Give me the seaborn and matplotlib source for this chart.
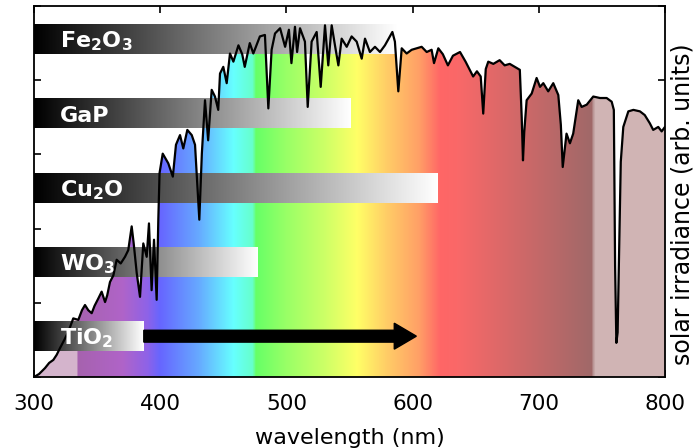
import numpy as np
import pandas as pd
import matplotlib
matplotlib.use("Agg")
import matplotlib.pyplot as plt
import seaborn as sns
from matplotlib.colors import to_rgb

# ---------------- data ----------------
wavelength = [300, 304, 308.7, 312, 315.3, 318, 320.6, 324, 327.2, 331.1, 335.1, 338, 340.4, 343,
              345.7, 348, 351, 353.6, 356.3, 358, 360.2, 362.9, 365.5, 368.7, 372.1, 374.7, 377.4,
              379, 381.4, 384, 386.6, 389.3, 391.1, 393.2, 395.1, 397.2, 398.5, 399.5, 402, 406.4,
              410, 412.5, 415.7, 418.3, 421.5, 425, 427.6, 431, 433, 435.5, 438, 440.8, 443.4, 446,
              447.4, 450, 452.7, 455.3, 458, 462, 465, 467, 471, 473.8, 479, 483, 485.7, 488.3, 491,
              495, 499, 502, 504, 506.8, 508.5, 510.8, 514.7, 516.9, 520, 524, 527.2, 530.6, 533.2,
              535.9, 538.5, 541.2, 543.8, 547.8, 551.7, 555.7, 559.7, 562.3, 566.2, 570.2, 574.2,
              578.1, 582.1, 584, 586, 588.7, 591.4, 595.3, 599.3, 603.2, 607.2, 611.2, 615.1, 617,
              620.4, 624, 628, 632, 637.6, 642, 645, 648, 651, 654, 656, 658, 660, 664, 669, 673,
              677, 681, 685, 686.5, 687.5, 688.5, 690.4, 694.4, 698.3, 701, 703.6, 707.5, 711.5,
              715.5, 717.5, 719, 722, 724.7, 727.3, 731.3, 734, 738, 743.2, 748.5, 753.8, 757.8,
              759.5, 760.5, 761.5, 762.5, 763.5, 765, 767, 771, 775, 780.2, 784, 788, 790.7, 794.7,
              797.4, 800]
irradiance = [0.0, 0.04, 0.12, 0.19, 0.23, 0.30, 0.39, 0.50, 0.61, 0.79, 0.77, 0.90, 0.97, 0.90,
              0.86, 0.96, 1.06, 1.15, 1.01, 1.10, 1.28, 1.37, 1.58, 1.53, 1.62, 1.71, 2.03,
              1.80, 1.40, 1.08, 1.80, 1.62, 2.07, 1.17, 1.85, 1.04, 2.12, 2.75, 3.01, 2.88,
              2.70, 3.13, 3.26, 3.08, 3.33, 3.26, 3.13, 2.12, 3.01, 3.73, 3.19, 3.87, 3.78, 3.60,
              4.09, 4.18, 3.96, 4.36, 4.25, 4.47, 4.35, 4.18, 4.50, 4.36, 4.59, 4.61, 3.62, 4.41, 4.63,
              4.70, 4.45, 4.68, 4.23, 4.72, 4.38, 4.70, 4.52, 3.64, 4.52, 4.65, 3.91, 4.74, 4.20,
              4.74, 4.47, 4.20, 4.56, 4.45, 4.59, 4.52, 4.29, 4.56, 4.38, 4.45, 4.38,
              4.47, 4.59, 4.65, 4.52, 3.85, 4.43, 4.36, 4.41, 4.43, 4.45, 4.38, 4.41, 4.23,
              4.43, 4.35, 4.20, 4.33, 4.38, 4.25, 4.15, 4.05, 4.12, 4.05, 3.55, 4.15, 4.25, 4.22, 4.27, 4.20,
              4.22, 4.18, 4.14, 3.50, 2.92, 3.30, 3.73, 3.82, 4.03, 3.91, 3.96, 3.85, 3.96,
              3.80, 3.40, 2.83, 3.28, 3.15, 3.28, 3.73, 3.64, 3.67, 3.78, 3.76, 3.76, 3.71,
              3.60, 1.50, 0.46, 0.60, 1.50, 2.90, 3.37, 3.58, 3.60, 3.58, 3.53, 3.42, 3.33, 3.37,
              3.31, 3.37]

materials = ["Fe$_\\mathbf{2}$O$_\\mathbf{3}$", "GaP", "Cu$_\\mathbf{2}$O", "WO$_\\mathbf{3}$", "TiO$_\\mathbf{2}$"]
absorption_edge_nm = [588, 551, 620, 477, 387]
tio2_arrow_tip_nm = 603

# spectral colour stops (wavelength, colour)
color_nm = [300, 334, 334.5, 370, 390, 400, 430, 458, 473, 476, 500, 530, 556, 580, 605, 622,
            635, 690, 742, 743.5, 745, 800]
color_hex = ['#d4b4cc', '#d4b4cc', '#a662ae', '#b064c8', '#8e62e8', '#6666ff', '#66a8ff', '#66ffff',
             '#66ffcc', '#66ff66', '#99ff66', '#ccff66', '#ffff66', '#ffcc66', '#ffa066', '#ff6666',
             '#fa6868', '#cc6868', '#a06868', '#bc9898', '#d0b4b4', '#d0b4b4']

df = pd.DataFrame({"wavelength": wavelength, "irradiance": irradiance})

# ---------------- figure ----------------
sns.set_style("ticks")
plt.rcParams['font.family'] = ['DejaVu Sans']
plt.rcParams['mathtext.fontset'] = 'dejavusans'
plt.rcParams['text.color'] = 'black'
plt.rcParams['axes.labelcolor'] = 'black'
plt.rcParams['xtick.color'] = 'black'
plt.rcParams['ytick.color'] = 'black'

fig, ax = plt.subplots(figsize=(6.97, 4.48), dpi=100)
fig.subplots_adjust(left=0.0488, right=0.954, bottom=0.1585, top=0.9866)

# rainbow fill under the spectrum
xs = np.linspace(300, 800, 2000)
rgb = np.array([to_rgb(c) for c in color_hex])
img = np.stack([np.interp(xs, color_nm, rgb[:, k]) for k in range(3)], axis=-1)[None, :, :]
im = ax.imshow(img, extent=[300, 800, 0, 5], aspect='auto', origin='lower',
               interpolation='nearest', zorder=1)
poly = ax.fill_between(df["wavelength"], df["irradiance"], 0, facecolor='none', edgecolor='none')
im.set_clip_path(poly.get_paths()[0], transform=ax.transData)

# gradient bars for materials
grad = np.linspace(0, 1, 256)[None, :]
n = len(materials)
for i, (name, edge) in enumerate(zip(materials, absorption_edge_nm)):
    yc = n - i - 0.45
    ax.imshow(grad, cmap='gray', vmin=0, vmax=1, extent=[300, edge, yc - 0.2, yc + 0.2],
              aspect='auto', interpolation='bilinear', zorder=2)
    ax.text(320.5, yc - 0.11, name, color='white', fontsize=16, fontweight='bold',
            va='baseline', ha='left', zorder=5)

# spectrum line
sns.lineplot(data=df, x="wavelength", y="irradiance", color='black', lw=1.6,
             estimator=None, sort=False, ax=ax, zorder=3)

# arrow from TiO2 bar
yc_tio2 = n - (n - 1) - 0.45
ax.arrow(absorption_edge_nm[-1], yc_tio2, tio2_arrow_tip_nm - absorption_edge_nm[-1], 0,
         width=0.16, head_width=0.35, head_length=17.5, length_includes_head=True,
         color='black', zorder=4)

ax.set_xlim(300, 800)
ax.set_ylim(0, 5)
ax.set_xticks(range(300, 801, 100))
ax.set_yticks(range(0, 6))
ax.tick_params(direction='in', top=True, right=True, length=5, width=1.2, labelsize=15.5,
               colors='black')
ax.tick_params(axis='x', pad=12.5)
ax.tick_params(axis='y', labelleft=False, labelright=False)
for s in ax.spines.values():
    s.set_linewidth(1.3)
    s.set_color('black')

ax.set_xlabel("wavelength (nm)", fontsize=16, labelpad=9.5)
ax.yaxis.set_label_position('right')
ax.set_ylabel("solar irradiance (arb. units)", fontsize=17)
ax.yaxis.set_label_coords(1.0095, 0.465)

fig.savefig("out.png", dpi=100)
